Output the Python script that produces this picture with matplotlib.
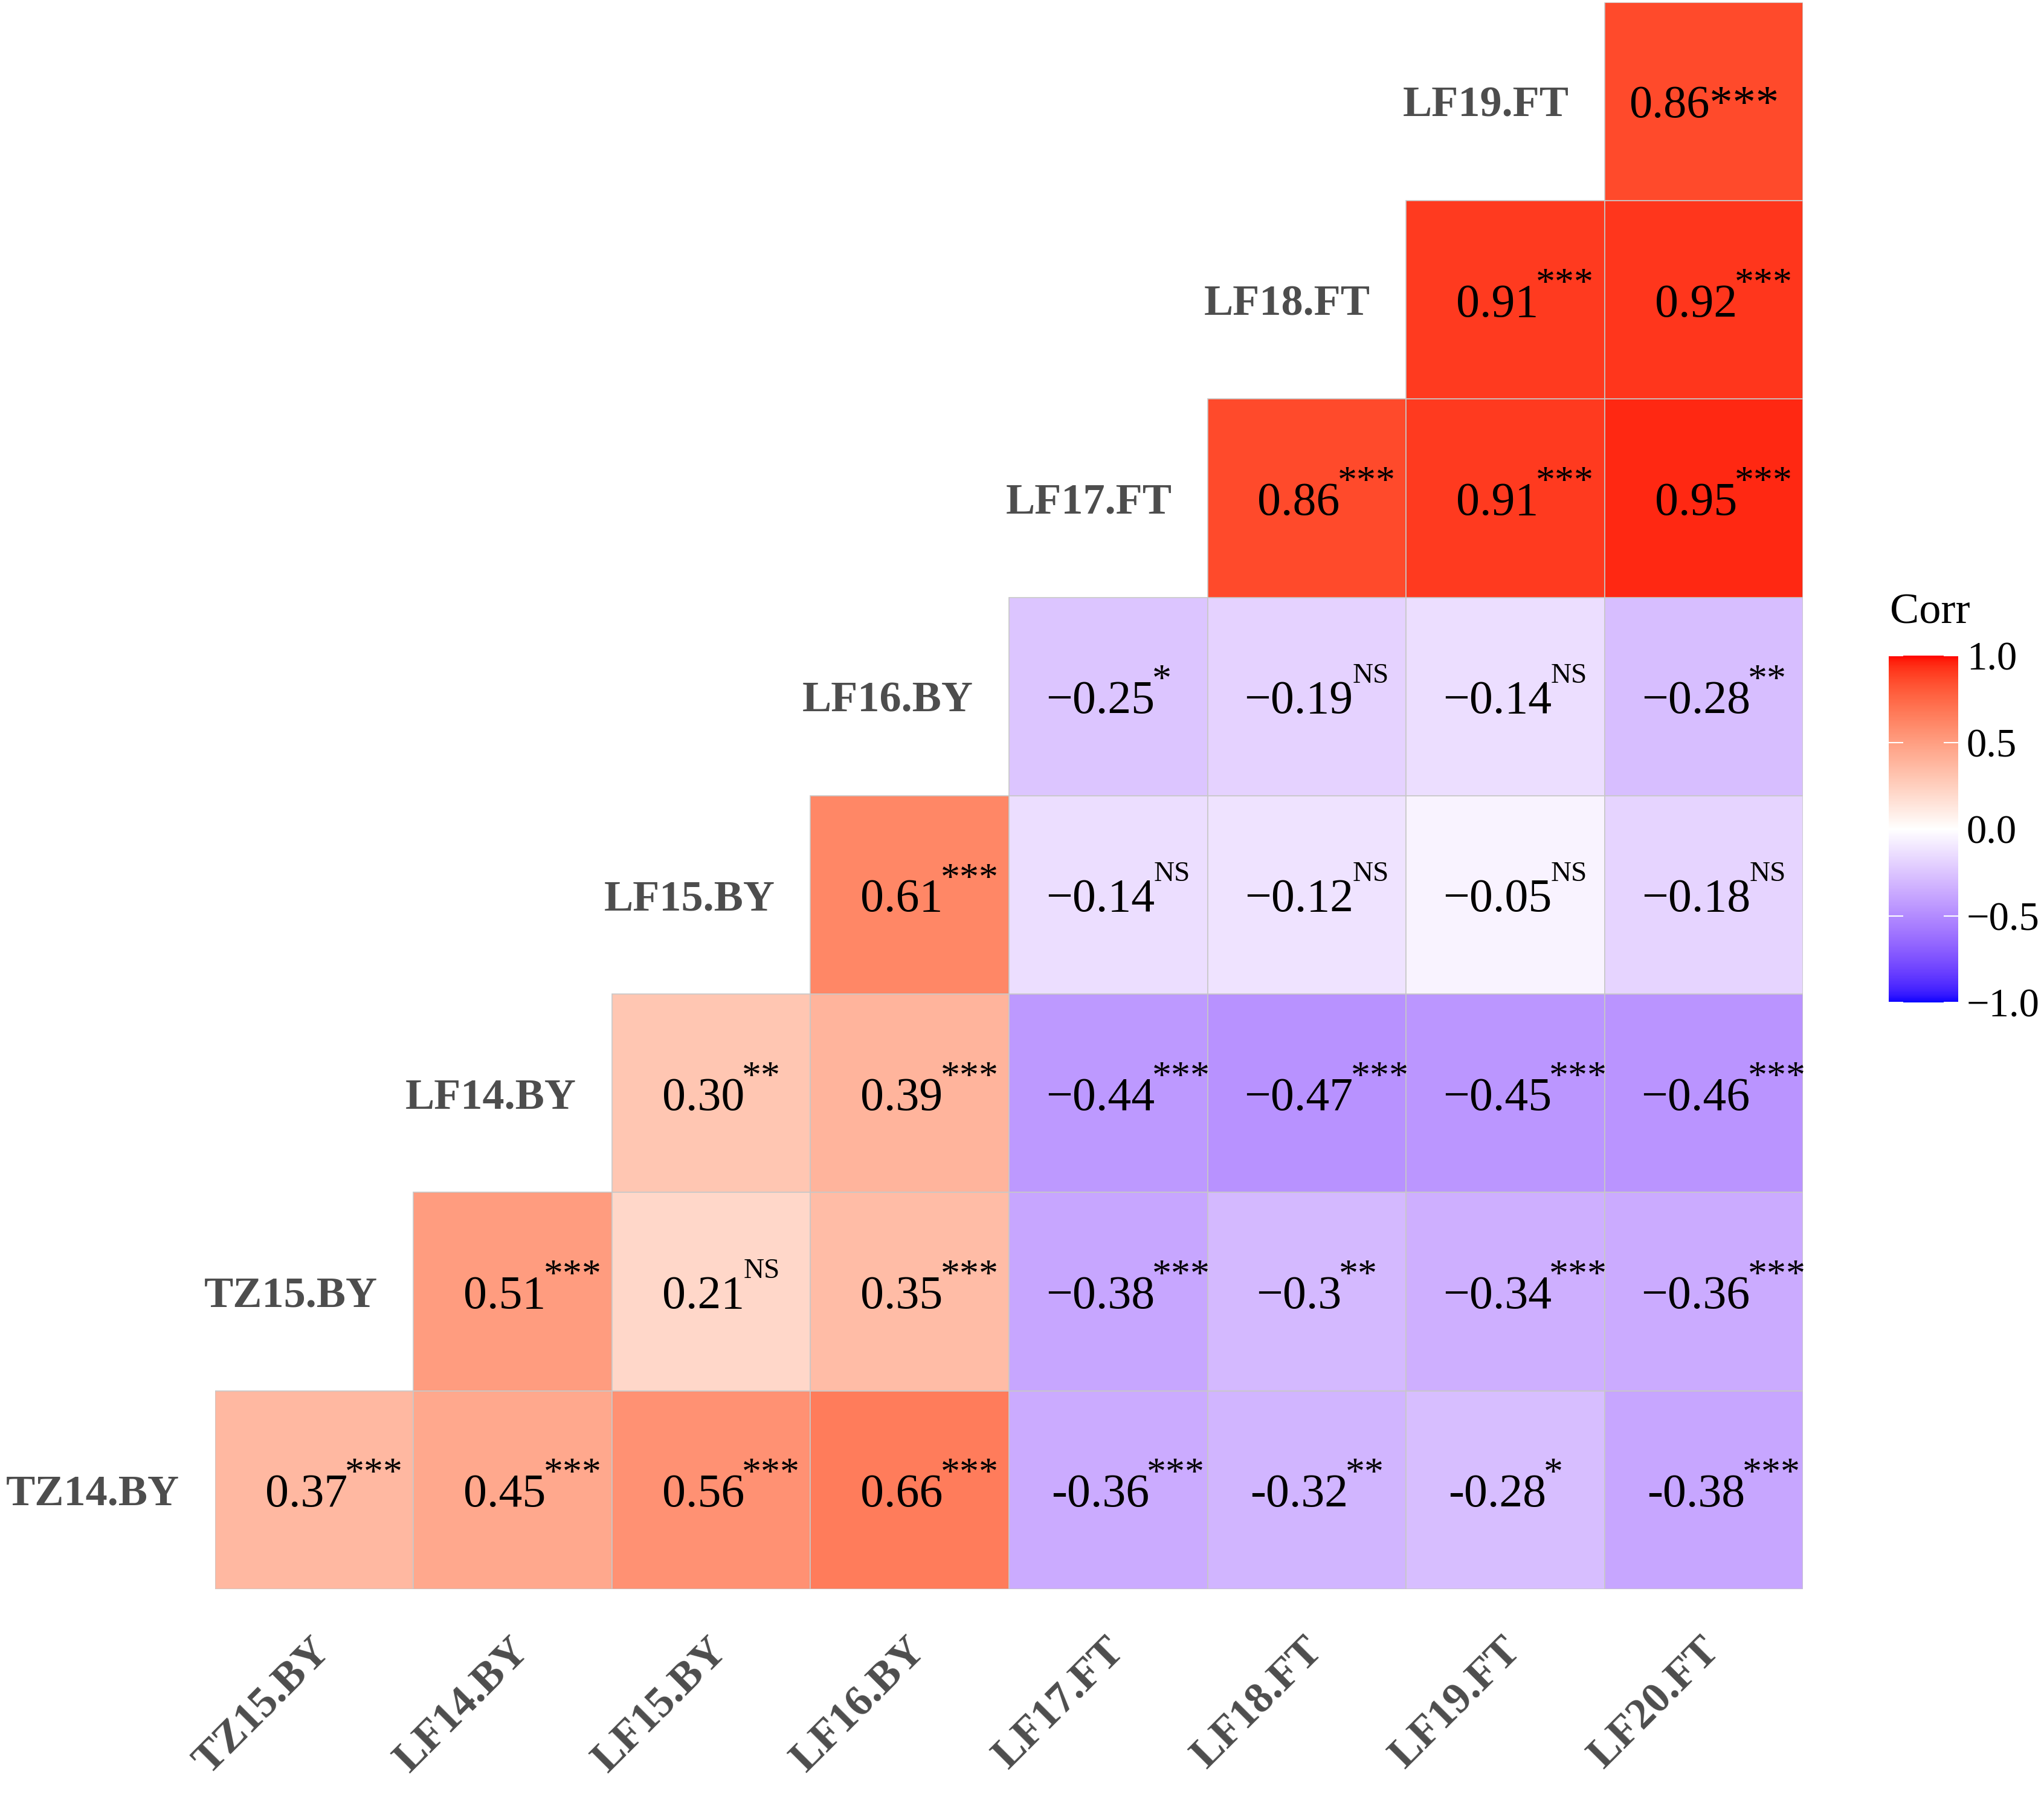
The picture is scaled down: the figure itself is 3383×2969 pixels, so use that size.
import numpy as np
import matplotlib
matplotlib.use("Agg")
import matplotlib.pyplot as plt
from matplotlib.colors import ListedColormap, Normalize
from matplotlib.patches import Rectangle
import matplotlib.cm as cm

plt.rcParams['font.family'] = ['Liberation Serif', 'DejaVu Serif']

# columns left to right, rows bottom to top
col_labels = ["TZ15.BY", "LF14.BY", "LF15.BY", "LF16.BY",
              "LF17.FT", "LF18.FT", "LF19.FT", "LF20.FT"]
row_labels = ["TZ14.BY", "TZ15.BY", "LF14.BY", "LF15.BY",
              "LF16.BY", "LF17.FT", "LF18.FT", "LF19.FT"]

corr = [
    [0.37, 0.45, 0.56, 0.66, -0.36, -0.32, -0.28, -0.38],
    [None, 0.51, 0.21, 0.35, -0.38, -0.30, -0.34, -0.36],
    [None, None, 0.30, 0.39, -0.44, -0.47, -0.45, -0.46],
    [None, None, None, 0.61, -0.14, -0.12, -0.05, -0.18],
    [None, None, None, None, -0.25, -0.19, -0.14, -0.28],
    [None, None, None, None, None, 0.86, 0.91, 0.95],
    [None, None, None, None, None, None, 0.91, 0.92],
    [None, None, None, None, None, None, None, 0.86],
]

num_text = [
    ["0.37", "0.45", "0.56", "0.66", "-0.36", "-0.32", "-0.28", "-0.38"],
    [None, "0.51", "0.21", "0.35", "\u22120.38", "\u22120.3", "\u22120.34", "\u22120.36"],
    [None, None, "0.30", "0.39", "\u22120.44", "\u22120.47", "\u22120.45", "\u22120.46"],
    [None, None, None, "0.61", "\u22120.14", "\u22120.12", "\u22120.05", "\u22120.18"],
    [None, None, None, None, "\u22120.25", "\u22120.19", "\u22120.14", "\u22120.28"],
    [None, None, None, None, None, "0.86", "0.91", "0.95"],
    [None, None, None, None, None, None, "0.91", "0.92"],
    [None, None, None, None, None, None, None, "0.86"],
]

sig = [
    ["***", "***", "***", "***", "***", "**", "*", "***"],
    [None, "***", "NS", "***", "***", "**", "***", "***"],
    [None, None, "**", "***", "***", "***", "***", "***"],
    [None, None, None, "***", "NS", "NS", "NS", "NS"],
    [None, None, None, None, "*", "NS", "NS", "**"],
    [None, None, None, None, None, "***", "***", "***"],
    [None, None, None, None, None, None, "***", "***"],
    [None, None, None, None, None, None, None, "***"],
]

cbar_ticks = [-1.0, -0.5, 0.0, 0.5, 1.0]
cbar_ticklabels = ["\u22121.0", "\u22120.5", "0.0", "0.5", "1.0"]


# blue-white-red gradient interpolated in CIELAB (like ggplot gradient2)
def to_lab(rgb):
    c = np.array(rgb, dtype=float)
    c = np.where(c > 0.04045, ((c + 0.055) / 1.055) ** 2.4, c / 12.92)
    m = np.array([[0.4124, 0.3576, 0.1805],
                  [0.2126, 0.7152, 0.0722],
                  [0.0193, 0.1192, 0.9505]])
    xyz = m @ c / np.array([0.95047, 1.0, 1.08883])
    f = np.where(xyz > 0.008856, np.cbrt(xyz), 7.787 * xyz + 16 / 116)
    return np.array([116 * f[1] - 16, 500 * (f[0] - f[1]), 200 * (f[1] - f[2])])


def from_lab(lab):
    L, a, b = lab
    fy = (L + 16) / 116
    fx = fy + a / 500
    fz = fy - b / 200
    f = np.array([fx, fy, fz])
    xyz = np.where(f ** 3 > 0.008856, f ** 3, (f - 16 / 116) / 7.787)
    xyz = xyz * np.array([0.95047, 1.0, 1.08883])
    mi = np.array([[3.2406, -1.5372, -0.4986],
                   [-0.9689, 1.8758, 0.0415],
                   [0.0557, -0.2040, 1.0570]])
    c = mi @ xyz
    c = np.where(c > 0.0031308, 1.055 * np.clip(c, 0, None) ** (1 / 2.4) - 0.055, 12.92 * c)
    return np.clip(c, 0, 1)


lab_blue = to_lab([0, 0, 1])
lab_white = to_lab([1, 1, 1])
lab_red = to_lab([1, 0, 0])
colors = []
for v in np.linspace(-1, 1, 512):
    if v < 0:
        lab = lab_white + (lab_blue - lab_white) * (-v)
    else:
        lab = lab_white + (lab_red - lab_white) * v
    colors.append(from_lab(lab))
cmap = ListedColormap(colors)
norm = Normalize(-1, 1)

fig = plt.figure(figsize=(33.83, 29.69), dpi=100)
ax = fig.add_axes([0.1052, 0.1142, 0.7769, 0.8845])
ax.set_xlim(0, 8)
ax.set_ylim(0, 8)
ax.axis("off")

label_gray = "#4D4D4D"
for i in range(8):
    for j in range(8):
        v = corr[i][j]
        if v is None:
            continue
        ax.add_patch(Rectangle((j, i), 1, 1, facecolor=cmap(norm(v)),
                               edgecolor="#c8c8c8", linewidth=1.2))
        if i == 7 and j == 7:
            ax.text(j + 0.5, i + 0.5, num_text[i][j] + sig[i][j], fontsize=55,
                    ha="center", va="center_baseline")
            continue
        t = ax.text(j + 0.46, i + 0.5, num_text[i][j], fontsize=56,
                    ha="center", va="center_baseline")
        s = sig[i][j]
        if s == "NS":
            ax.annotate(s, xy=(1, 1), xycoords=t, xytext=(-1, 5),
                        textcoords="offset points", fontsize=34,
                        ha="left", va="center")
        else:
            ax.annotate(s, xy=(1, 1), xycoords=t, xytext=(-3, -2),
                        textcoords="offset points", fontsize=46,
                        ha="left", va="center")

# row labels on the diagonal
for i, lab in enumerate(row_labels):
    ax.text(i - 0.18, i + 0.5, lab, fontsize=52, fontweight="bold",
            color=label_gray, ha="right", va="center_baseline")

# column labels below
for j, lab in enumerate(col_labels):
    ax.text(j + 0.55, -0.28, lab, fontsize=52, fontweight="bold",
            color=label_gray, ha="right", va="center", rotation=45,
            rotation_mode="anchor")

# colorbar
cax = fig.add_axes([0.9240, 0.4412, 0.0340, 0.1933])
cb = fig.colorbar(cm.ScalarMappable(norm=norm, cmap=cmap), cax=cax)
cb.outline.set_visible(False)
cb.set_ticks(cbar_ticks)
cb.set_ticklabels(cbar_ticklabels)
cax.tick_params(direction="in", color="white", length=17, width=1.5,
                left=True, right=True, labelsize=48, pad=10)
fig.text(0.9246, 0.6585, "Corr", fontsize=52, ha="left", va="center")

fig.savefig("out.png", dpi=100, facecolor="white")
